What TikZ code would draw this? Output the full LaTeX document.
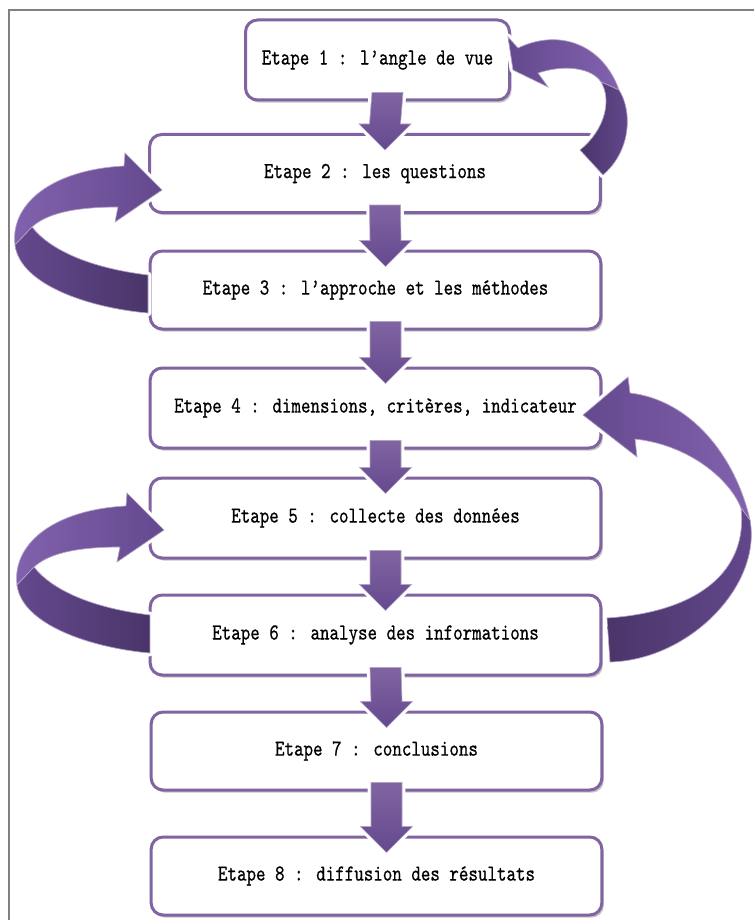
\documentclass[tikz,border=0pt]{standalone}
\usepackage{fontspec}
\usetikzlibrary{calc,shadows}
\newfontfamily\etapefont[FakeStretch=0.79,FakeBold=0.6]{lmmono10-regular.otf}

\definecolor{violetbord}{HTML}{8064A2}
\definecolor{violetclair}{HTML}{8262AE}
\definecolor{violetmoyen}{HTML}{64498E}
\definecolor{violetfonce}{HTML}{4A3569}
\definecolor{cadre}{HTML}{808080}

\tikzset{
  etape/.style={draw=violetbord, line width=2.25pt, rounded corners=9pt, fill=white,
    minimum width=338pt, minimum height=58.5pt, inner sep=0pt,
    font=\etapefont\fontsize{17.2}{19}\selectfont,
    drop shadow={shadow xshift=1.5pt, shadow yshift=-2pt, fill=black!45, opacity=0.5}},
  fleche/.style={top color=violetbord, bottom color=violetmoyen, draw=violetbord!60!white,
    line width=0.5pt, preaction={draw=white, line width=5pt, line join=round}},
  blanc/.style={draw=white, line width=5pt, line join=round},
  ruban/.style={draw=violetbord!60!white, line width=0.5pt}
}

% fleche vers le bas entre deux etapes
\newcommand{\fleche}[2]{%
  \shadedraw[fleche] ($(#1.south)+(-5.5,-9)$) -- ($(#1.south)+(25.5,-9)$) -- ($(#2.north)+(25.5,-9)$) -- ($(#2.north)+(36,-9)$) -- ($(#2.north)+(10,17)$) -- ($(#2.north)+(-16,-9)$) -- ($(#2.north)+(-5.5,-9)$) -- cycle;}

% rubans courbes (parties haute et basse)
\newcommand{\hautA}{(15,245) .. controls (10,205) and (50,170) .. (124,166) -- (125,153) -- (162,190) -- (115,222) -- (118,207) .. controls (70,207) and (45,215) .. (32,227) -- cycle}
\newcommand{\basA}{(15,245) .. controls (20,285) and (90,308) .. (148,313) -- (148,275) .. controls (90,268) and (50,250) .. (32,227) -- cycle}
\newcommand{\hautC}{(619,90) .. controls (603,45) and (560,28) .. (518,48) -- (508,37) -- (513,70) -- (548,87) -- (538,73) .. controls (565,64) and (592,68) .. (601,82) -- cycle}
\newcommand{\basC}{(601,82) .. controls (612,100) and (605,130) .. (580,150) -- (603,175) .. controls (632,150) and (632,110) .. (619,90) -- cycle}
\newcommand{\hautD}{(750,520) .. controls (735,455) and (690,400) .. (630,393) -- (628,377) -- (583,415) -- (637,457) -- (635,439) .. controls (690,445) and (730,480) .. (741,508) -- cycle}
\newcommand{\basD}{(741,508) .. controls (748,570) and (700,612) .. (607,618) -- (610,662) .. controls (690,660) and (762,585) .. (750,520) -- cycle}

\begin{document}
\begin{tikzpicture}[x=0.75pt,y=0.75pt,yscale=-1,xscale=1]
\useasboundingbox (0,0) rectangle (753,920);

%Frame
\draw[draw=cadre, line width=1.5pt] (9,930) -- (9,10) -- (760,10);

%Shape: Rounded Rect
\node[etape, minimum width=198pt, minimum height=60pt] (b1) at (377.5,60) {Etape 1 : l’angle de vue};
\node[etape] (b2) at (375,173.5) {Etape 2 : les questions};
\node[etape] (b3) at (375.5,290) {Etape 3 : l’approche et les méthodes};
\node[etape, minimum height=60pt] (b4) at (375.5,408) {Etape 4 : dimensions, critères, indicateur};
\node[etape, minimum height=60pt] (b5) at (375.5,518) {Etape 5 : collecte des données};
\node[etape, minimum height=60pt] (b6) at (375.5,635) {Etape 6 : analyse des informations};
\node[etape] (b7) at (376.5,751) {Etape 7 : conclusions};
\node[etape] (b8) at (376.5,876) {Etape 8 : diffusion des résultats};

%Arrows down
\fleche{b1}{b2}
\fleche{b2}{b3}
\fleche{b3}{b4}
\fleche{b4}{b5}
\fleche{b5}{b6}
\fleche{b6}{b7}
\fleche{b7}{b8}

%Curved Arrow: 3 -> 2 and 6 -> 5
\foreach \dx/\dy in {0/0, 2/340}{
  \begin{scope}[shift={(\dx,\dy)}]
    \draw[blanc] \hautA;
    \draw[blanc] \basA;
    \shadedraw[ruban, left color=violetclair, right color=violetmoyen] \hautA;
    \shadedraw[ruban, left color=violetmoyen, right color=violetfonce] \basA;
  \end{scope}
}

%Curved Arrow: 2 -> 1
\draw[blanc] \hautC;
\draw[blanc] \basC;
\shadedraw[ruban, left color=violetmoyen, right color=violetclair] \hautC;
\shadedraw[ruban, left color=violetfonce, right color=violetmoyen] \basC;

%Curved Arrow: 6 -> 4
\draw[blanc] \hautD;
\draw[blanc] \basD;
\shadedraw[ruban, left color=violetmoyen, right color=violetclair] \hautD;
\shadedraw[ruban, left color=violetfonce, right color=violetmoyen] \basD;

\end{tikzpicture}
\end{document}
